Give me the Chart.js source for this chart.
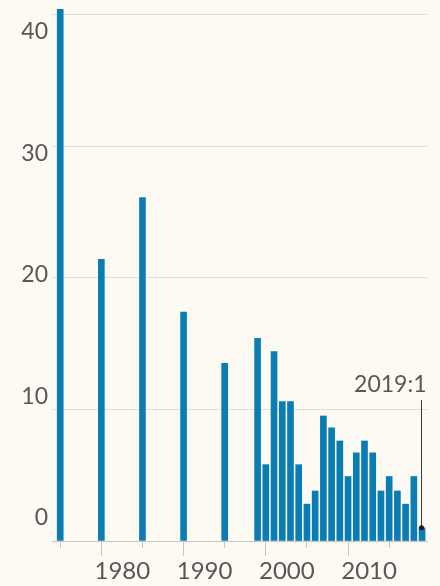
<!DOCTYPE html>
<html>
<head>
<meta charset="utf-8">
<script src="https://cdn.jsdelivr.net/npm/chart.js@4/dist/chart.umd.min.js"></script>
<style>
  html, body { margin: 0; padding: 0; background: #fdf9f3; }
  canvas { display: block; }
</style>
</head>
<body>
<canvas id="c" width="440" height="586"></canvas>
<script>
// ---- data ----
const years = [1975, 1980, 1985, 1990, 1995,
  1999, 2000, 2001, 2002, 2003, 2004, 2005, 2006, 2007, 2008, 2009,
  2010, 2011, 2012, 2013, 2014, 2015, 2016, 2017, 2018, 2019];
const values = [40.4, 21.4, 26.1, 17.4, 13.5,
  15.4, 5.8, 14.4, 10.6, 10.6, 5.8, 2.8, 3.8, 9.5, 8.6, 7.6,
  4.9, 6.7, 7.6, 6.7, 3.8, 4.9, 3.8, 2.8, 4.9, 1.0];
const yTickValues = [0, 10, 20, 30, 40];
const xMajorTicks = [1980, 1990, 2000, 2010];
const xMinorTicks = [1975, 1985, 1995, 2005, 2015];
const noteYear = 2019;
const noteValue = 1;
const noteLeaderTop = 10.7;
const noteText = '2019:1';

const TEXT = '#575757';
const FONT = 'Lato, "Open Sans", sans-serif';

function zeroPad(s) { s.paddingTop = 0; s.paddingBottom = 0; s.paddingLeft = 0; s.paddingRight = 0; }

const bgPlugin = {
  id: 'bg',
  beforeDraw(chart) {
    const ctx = chart.ctx;
    ctx.save();
    ctx.fillStyle = '#fdf9f3';
    ctx.fillRect(0, 0, chart.width, chart.height);
    ctx.restore();
  }
};

const notePlugin = {
  id: 'note',
  afterDatasetsDraw(chart) {
    const ctx = chart.ctx;
    const xs = chart.scales.x, ys = chart.scales.y;
    const x = Math.round(xs.getPixelForValue(noteYear)) - 0.5;
    const yb = ys.getPixelForValue(noteValue);
    const yt = ys.getPixelForValue(noteLeaderTop);
    ctx.save();
    ctx.strokeStyle = '#3a3a3a';
    ctx.lineWidth = 1;
    ctx.beginPath();
    ctx.moveTo(x, yb);
    ctx.lineTo(x, yt);
    ctx.stroke();
    ctx.fillStyle = '#1a1a1a';
    ctx.beginPath();
    ctx.arc(x, yb, 2.5, 0, Math.PI * 2);
    ctx.fill();
    ctx.fillStyle = TEXT;
    ctx.font = '23px ' + FONT;
    ctx.textAlign = 'right';
    ctx.textBaseline = 'alphabetic';
    ctx.fillText(noteText, x + 5, yt - 8);
    ctx.restore();
  }
};

new Chart(document.getElementById('c'), {
  type: 'bar',
  data: {
    datasets: [{
      data: years.map((yr, i) => ({ x: yr, y: values[i] })),
      backgroundColor: '#0b7db5',
      borderWidth: 0,
      barThickness: 6
    }]
  },
  options: {
    responsive: false,
    animation: false,
    events: [],
    layout: { padding: { top: 4, right: 13, bottom: 0, left: 0 } },
    plugins: { legend: { display: false }, tooltip: { enabled: false } },
    scales: {
      x: {
        type: 'linear', position: 'bottom', weight: 1,
        min: 1974, max: 2019.6, offset: false,
        afterBuildTicks(s) { s.ticks = xMajorTicks.map(v => ({ value: v })); },
        afterFit(s) { s.height = 45; zeroPad(s); },
        grid: { offset: false, drawOnChartArea: false, drawTicks: true, tickLength: 15, tickColor: '#c9c6c1', tickWidth: 1 },
        border: { display: true, color: '#c9c6c1', width: 1 },
        ticks: {
          autoSkip: false, maxRotation: 0, padding: 1, labelOffset: 21,
          color: TEXT, font: { family: FONT, size: 24 },
          callback: v => String(v)
        }
      },
      x2: {
        type: 'linear', position: 'bottom', weight: 0,
        min: 1974, max: 2019.6, offset: false,
        afterBuildTicks(s) { s.ticks = xMinorTicks.map(v => ({ value: v })); },
        afterFit(s) { s.height = 0; zeroPad(s); },
        grid: { offset: false, drawOnChartArea: false, drawTicks: true, tickLength: 7, tickColor: '#c9c6c1', tickWidth: 1 },
        border: { display: false },
        ticks: { display: false }
      },
      y: {
        type: 'linear', position: 'left', weight: 0,
        min: 0, max: 40.8,
        afterBuildTicks(s) { s.ticks = yTickValues.map(v => ({ value: v })); },
        afterFit(s) { s.width = 0; zeroPad(s); },
        grid: { color: '#e2ded7', lineWidth: 1, drawTicks: false },
        border: { display: false },
        ticks: { display: false }
      },
      y2: {
        type: 'linear', position: 'left', weight: 1,
        min: -1.89, max: 42.3,
        afterBuildTicks(s) { s.ticks = yTickValues.map(v => ({ value: v })); },
        afterFit(s) { s.width = 52; zeroPad(s); },
        grid: { display: false, drawTicks: false },
        border: { display: false },
        ticks: {
          padding: 4, color: TEXT, font: { family: FONT, size: 23 },
          callback: v => String(v)
        }
      }
    }
  },
  plugins: [bgPlugin, notePlugin]
});
</script>
</body>
</html>
